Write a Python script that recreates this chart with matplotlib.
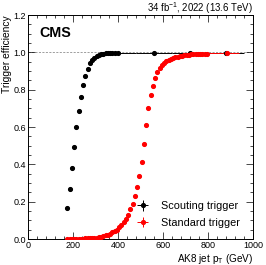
import matplotlib
matplotlib.use("Agg")
import matplotlib.pyplot as plt
import numpy as np
from matplotlib.ticker import MultipleLocator

plt.rcParams['font.family'] = ['Liberation Sans', 'DejaVu Sans']
plt.rcParams['mathtext.fontset'] = 'custom'
plt.rcParams['mathtext.rm'] = 'Liberation Sans'

# Scouting trigger (black)
scout_pt = [175, 185, 195, 205, 215, 225, 235, 245, 255, 265, 275, 285, 295,
            305, 315, 325, 335, 345, 355, 365, 375, 385, 400, 560, 720, 880]
scout_eff = [0.164, 0.266, 0.379, 0.494, 0.598, 0.686, 0.762, 0.825, 0.873,
             0.909, 0.941, 0.959, 0.971, 0.980, 0.986, 0.990, 0.993, 0.995,
             0.996, 0.997, 0.997, 0.998, 0.998, 0.999, 0.999, 0.999]
scout_lo = [170, 180, 190, 200, 210, 220, 230, 240, 250, 260, 270, 280, 290,
            300, 310, 320, 330, 340, 350, 360, 370, 380, 380, 480, 640, 800]
scout_hi = [180, 190, 200, 210, 220, 230, 240, 250, 260, 270, 280, 290, 300,
            310, 320, 330, 340, 350, 360, 370, 380, 390, 480, 640, 800, 960]

# Standard trigger (red)
std_pt = list(range(175, 800, 10)) + [885]
std_eff = [0.0, 0.0, 0.0, 0.001, 0.001, 0.001, 0.002, 0.002, 0.003, 0.003,
           0.004, 0.005, 0.006, 0.008, 0.010, 0.012, 0.015, 0.019, 0.024,
           0.029, 0.035, 0.042, 0.051, 0.062, 0.075, 0.090, 0.108, 0.130,
           0.160, 0.190, 0.230, 0.280, 0.339, 0.411, 0.509, 0.609, 0.700,
           0.771, 0.821, 0.861, 0.893, 0.915, 0.930, 0.943, 0.953, 0.960,
           0.966, 0.971, 0.975, 0.978, 0.981, 0.983, 0.985, 0.987, 0.988,
           0.989, 0.990, 0.991, 0.991, 0.992, 0.992, 0.993, 0.993, 0.995]
std_lo = [p - 5 for p in std_pt[:-1]] + [800]
std_hi = [p + 5 for p in std_pt[:-1]] + [940]

fig = plt.figure(figsize=(2.66, 2.65), dpi=100)
ax = fig.add_axes([0.105, 0.098, 0.846, 0.845])

ax.axhline(1.0, color='#777777', linestyle=(0, (3, 2)), linewidth=0.5, zorder=1)

for pt, eff, lo, hi, col, lab in [
        (scout_pt, scout_eff, scout_lo, scout_hi, 'black', 'Scouting trigger'),
        (std_pt, std_eff, std_lo, std_hi, 'red', 'Standard trigger')]:
    pt = np.array(pt)
    xerr = [pt - np.array(lo), np.array(hi) - pt]
    yerr = np.full(len(pt), 0.002)
    ax.errorbar(pt, eff, xerr=xerr, yerr=yerr, fmt='o', color=col,
                ecolor=col, markersize=2.7, elinewidth=0.7, capsize=0,
                label=lab, zorder=3)

ax.set_xlim(0, 1000)
ax.set_ylim(0, 1.2)
ax.xaxis.set_major_locator(MultipleLocator(200))
ax.xaxis.set_minor_locator(MultipleLocator(40))
ax.yaxis.set_major_locator(MultipleLocator(0.2))
ax.yaxis.set_minor_locator(MultipleLocator(0.05))
ax.tick_params(which='both', direction='in', top=True, right=True,
               labelsize=6.5, pad=1.5, width=0.5)
ax.tick_params(which='major', length=5)
ax.tick_params(which='minor', length=2.5)
for s in ax.spines.values():
    s.set_linewidth(0.7)

ax.set_xlabel(r'AK8 jet p$_{\mathregular{T}}$ (GeV)', fontsize=7.2,
              loc='right', labelpad=1)
ax.set_ylabel('Trigger efficiency', fontsize=7.4, loc='top', labelpad=1)

ax.text(0.05, 0.92, 'CMS', transform=ax.transAxes, fontsize=10.3,
        fontweight='bold', va='center', ha='left')
ax.text(1.0, 1.013, r'34 fb$^{-1}$, 2022 (13.6 TeV)', transform=ax.transAxes,
        fontsize=6.9, ha='right', va='baseline')

ax.legend(loc='upper left', bbox_to_anchor=(0.462, 0.188), frameon=False,
          fontsize=7.8, handlelength=1.2, handletextpad=1.1,
          borderaxespad=0.0, labelspacing=0.6)

fig.savefig('out.png', dpi=100)
